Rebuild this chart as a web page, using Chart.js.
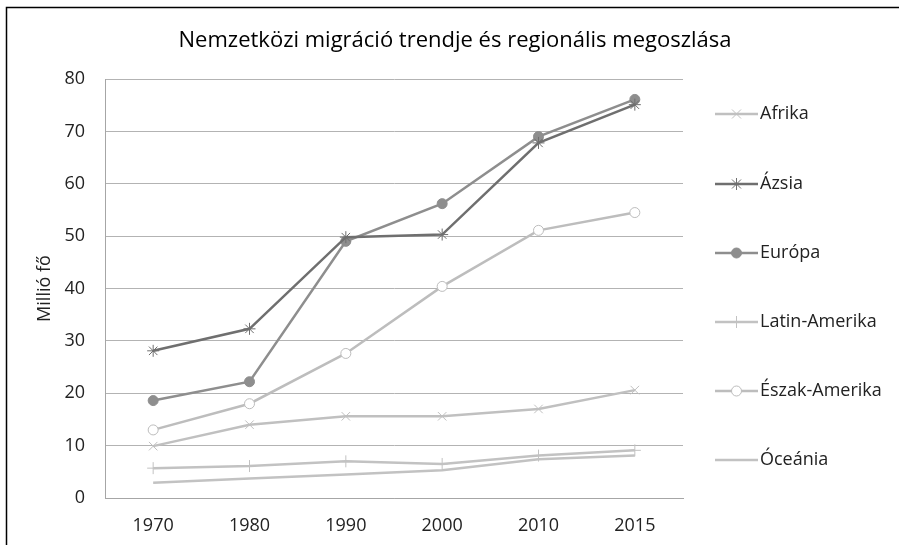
<!DOCTYPE html>
<html><head><meta charset="utf-8">
<script src="https://cdn.jsdelivr.net/npm/chart.js@4.4.0/dist/chart.umd.min.js"></script>
<style>html,body{margin:0;padding:0;background:#fff;overflow:hidden}canvas{display:block}</style>
</head><body>
<canvas id="c" width="899" height="545"></canvas>
<script>
const categories = ['1970', '1980', '1990', '2000', '2010', '2015'];
const afrika = [9.9, 14.0, 15.6, 15.6, 17.0, 20.6];
const azsia = [28.1, 32.3, 49.8, 50.3, 67.8, 75.1];
const europa = [18.6, 22.2, 49.0, 56.2, 69.0, 76.1];
const latinAmerika = [5.7, 6.1, 7.0, 6.5, 8.1, 9.1];
const eszakAmerika = [13.0, 18.0, 27.6, 40.4, 51.1, 54.5];
const oceania = [2.9, 3.7, 4.5, 5.3, 7.4, 8.1];
const seriesNames = ['Afrika', 'Ázsia', 'Európa', 'Latin-Amerika', 'Észak-Amerika', 'Óceánia'];
const yTickValues = [0, 10, 20, 30, 40, 50, 60, 70, 80];
const chartTitle = 'Nemzetközi migráció trendje és regionális megoszlása';
const yAxisTitle = 'Millió fő';

const FONT = "'Open Sans', sans-serif";
const styles = [
  {color: '#c0c0c0', marker: 'crossRot', fill: '#c0c0c0', r: 6},
  {color: '#6f6f6f', marker: 'star', fill: '#6f6f6f', r: 6},
  {color: '#8e8e8e', marker: 'circle', fill: '#8e8e8e', r: 5},
  {color: '#c2c2c2', marker: 'cross', fill: '#c2c2c2', r: 6},
  {color: '#bdbdbd', marker: 'circle', fill: '#ffffff', r: 5},
  {color: '#c2c2c2', marker: false, fill: '#c2c2c2', r: 0}
];
const seriesData = [afrika, azsia, europa, latinAmerika, eszakAmerika, oceania];

function drawMarker(ctx, type, x, y, r, stroke, fill) {
  ctx.save();
  ctx.strokeStyle = stroke; ctx.fillStyle = fill; ctx.lineWidth = 1;
  ctx.beginPath();
  if (type === 'circle') {
    ctx.arc(x, y, r, 0, Math.PI * 2); ctx.fill(); ctx.stroke();
  } else if (type === 'crossRot') {
    const d = r * 0.75;
    ctx.moveTo(x - d, y - d); ctx.lineTo(x + d, y + d);
    ctx.moveTo(x + d, y - d); ctx.lineTo(x - d, y + d); ctx.stroke();
  } else if (type === 'cross') {
    ctx.moveTo(x, y - r); ctx.lineTo(x, y + r);
    ctx.moveTo(x - r, y); ctx.lineTo(x + r, y); ctx.stroke();
  } else if (type === 'star') {
    const d = r * 0.75;
    ctx.moveTo(x - d, y - d); ctx.lineTo(x + d, y + d);
    ctx.moveTo(x + d, y - d); ctx.lineTo(x - d, y + d);
    ctx.moveTo(x, y - r); ctx.lineTo(x, y + r); ctx.stroke();
  }
  ctx.restore();
}

const decorPlugin = {
  id: 'decor',
  beforeDraw(chart) {
    const ctx = chart.ctx;
    ctx.save();
    ctx.fillStyle = '#ffffff';
    ctx.fillRect(0, 0, chart.width, chart.height);
    ctx.strokeStyle = '#000000'; ctx.lineWidth = 1.5;
    ctx.strokeRect(6.5, 7.5, chart.width + 20, chart.height + 20);
    ctx.fillStyle = '#000000';
    ctx.font = "22px " + FONT;
    ctx.textAlign = 'center'; ctx.textBaseline = 'middle';
    ctx.fillText(chartTitle, 455, 41);
    ctx.restore();
  },
  afterDraw(chart) {
    const ctx = chart.ctx;
    ctx.save();
    const x0 = 715, x1 = 758, ys = [114, 184, 253, 322, 391, 460];
    seriesNames.forEach((name, i) => {
      const s = styles[i], y = ys[i];
      ctx.strokeStyle = s.color; ctx.lineWidth = 2.5;
      ctx.beginPath(); ctx.moveTo(x0, y); ctx.lineTo(x1, y); ctx.stroke();
      if (s.marker) drawMarker(ctx, s.marker, (x0 + x1) / 2, y, s.r, s.color, s.fill);
      ctx.fillStyle = '#222222';
      ctx.font = "18px " + FONT;
      ctx.textAlign = 'left'; ctx.textBaseline = 'middle';
      ctx.fillText(name, 760, y);
    });
    ctx.restore();
  }
};

const datasets = seriesNames.map((name, i) => ({
  label: name,
  data: seriesData[i],
  borderColor: styles[i].color,
  backgroundColor: styles[i].fill,
  borderWidth: 2.5,
  pointStyle: styles[i].marker,
  pointRadius: styles[i].r,
  pointHoverRadius: styles[i].r,
  pointBorderColor: styles[i].color,
  pointBackgroundColor: styles[i].fill,
  pointBorderWidth: 1,
  tension: 0,
  fill: false
}));

new Chart(document.getElementById('c'), {
  type: 'line',
  data: {labels: categories, datasets},
  options: {
    responsive: false,
    animation: false,
    devicePixelRatio: 1,
    layout: {padding: {top: 79, right: 216, bottom: 0, left: 0}},
    plugins: {legend: {display: false}, title: {display: false}, tooltip: {enabled: false}},
    scales: {
      x: {
        offset: true,
        grid: {display: false, drawTicks: false},
        border: {display: true, color: '#a6a6a6', width: 1},
        ticks: {color: '#222222', font: {family: FONT, size: 18}, padding: 17, maxRotation: 0},
        afterFit(s) { s.height = 47; }
      },
      y: {
        min: 0, max: 80,
        afterBuildTicks(s) { s.ticks = yTickValues.map(v => ({value: v})); },
        grid: {color: '#b3b3b3', lineWidth: 1, drawTicks: false},
        border: {display: true, color: '#a6a6a6', width: 1},
        ticks: {color: '#222222', font: {family: FONT, size: 18}, padding: 20},
        title: {display: true, text: yAxisTitle, color: '#222222', font: {family: FONT, size: 18}, padding: {top: 34, bottom: 0}},
        afterFit(s) { s.width = 105; }
      }
    }
  },
  plugins: [decorPlugin]
});
</script>
</body></html>
